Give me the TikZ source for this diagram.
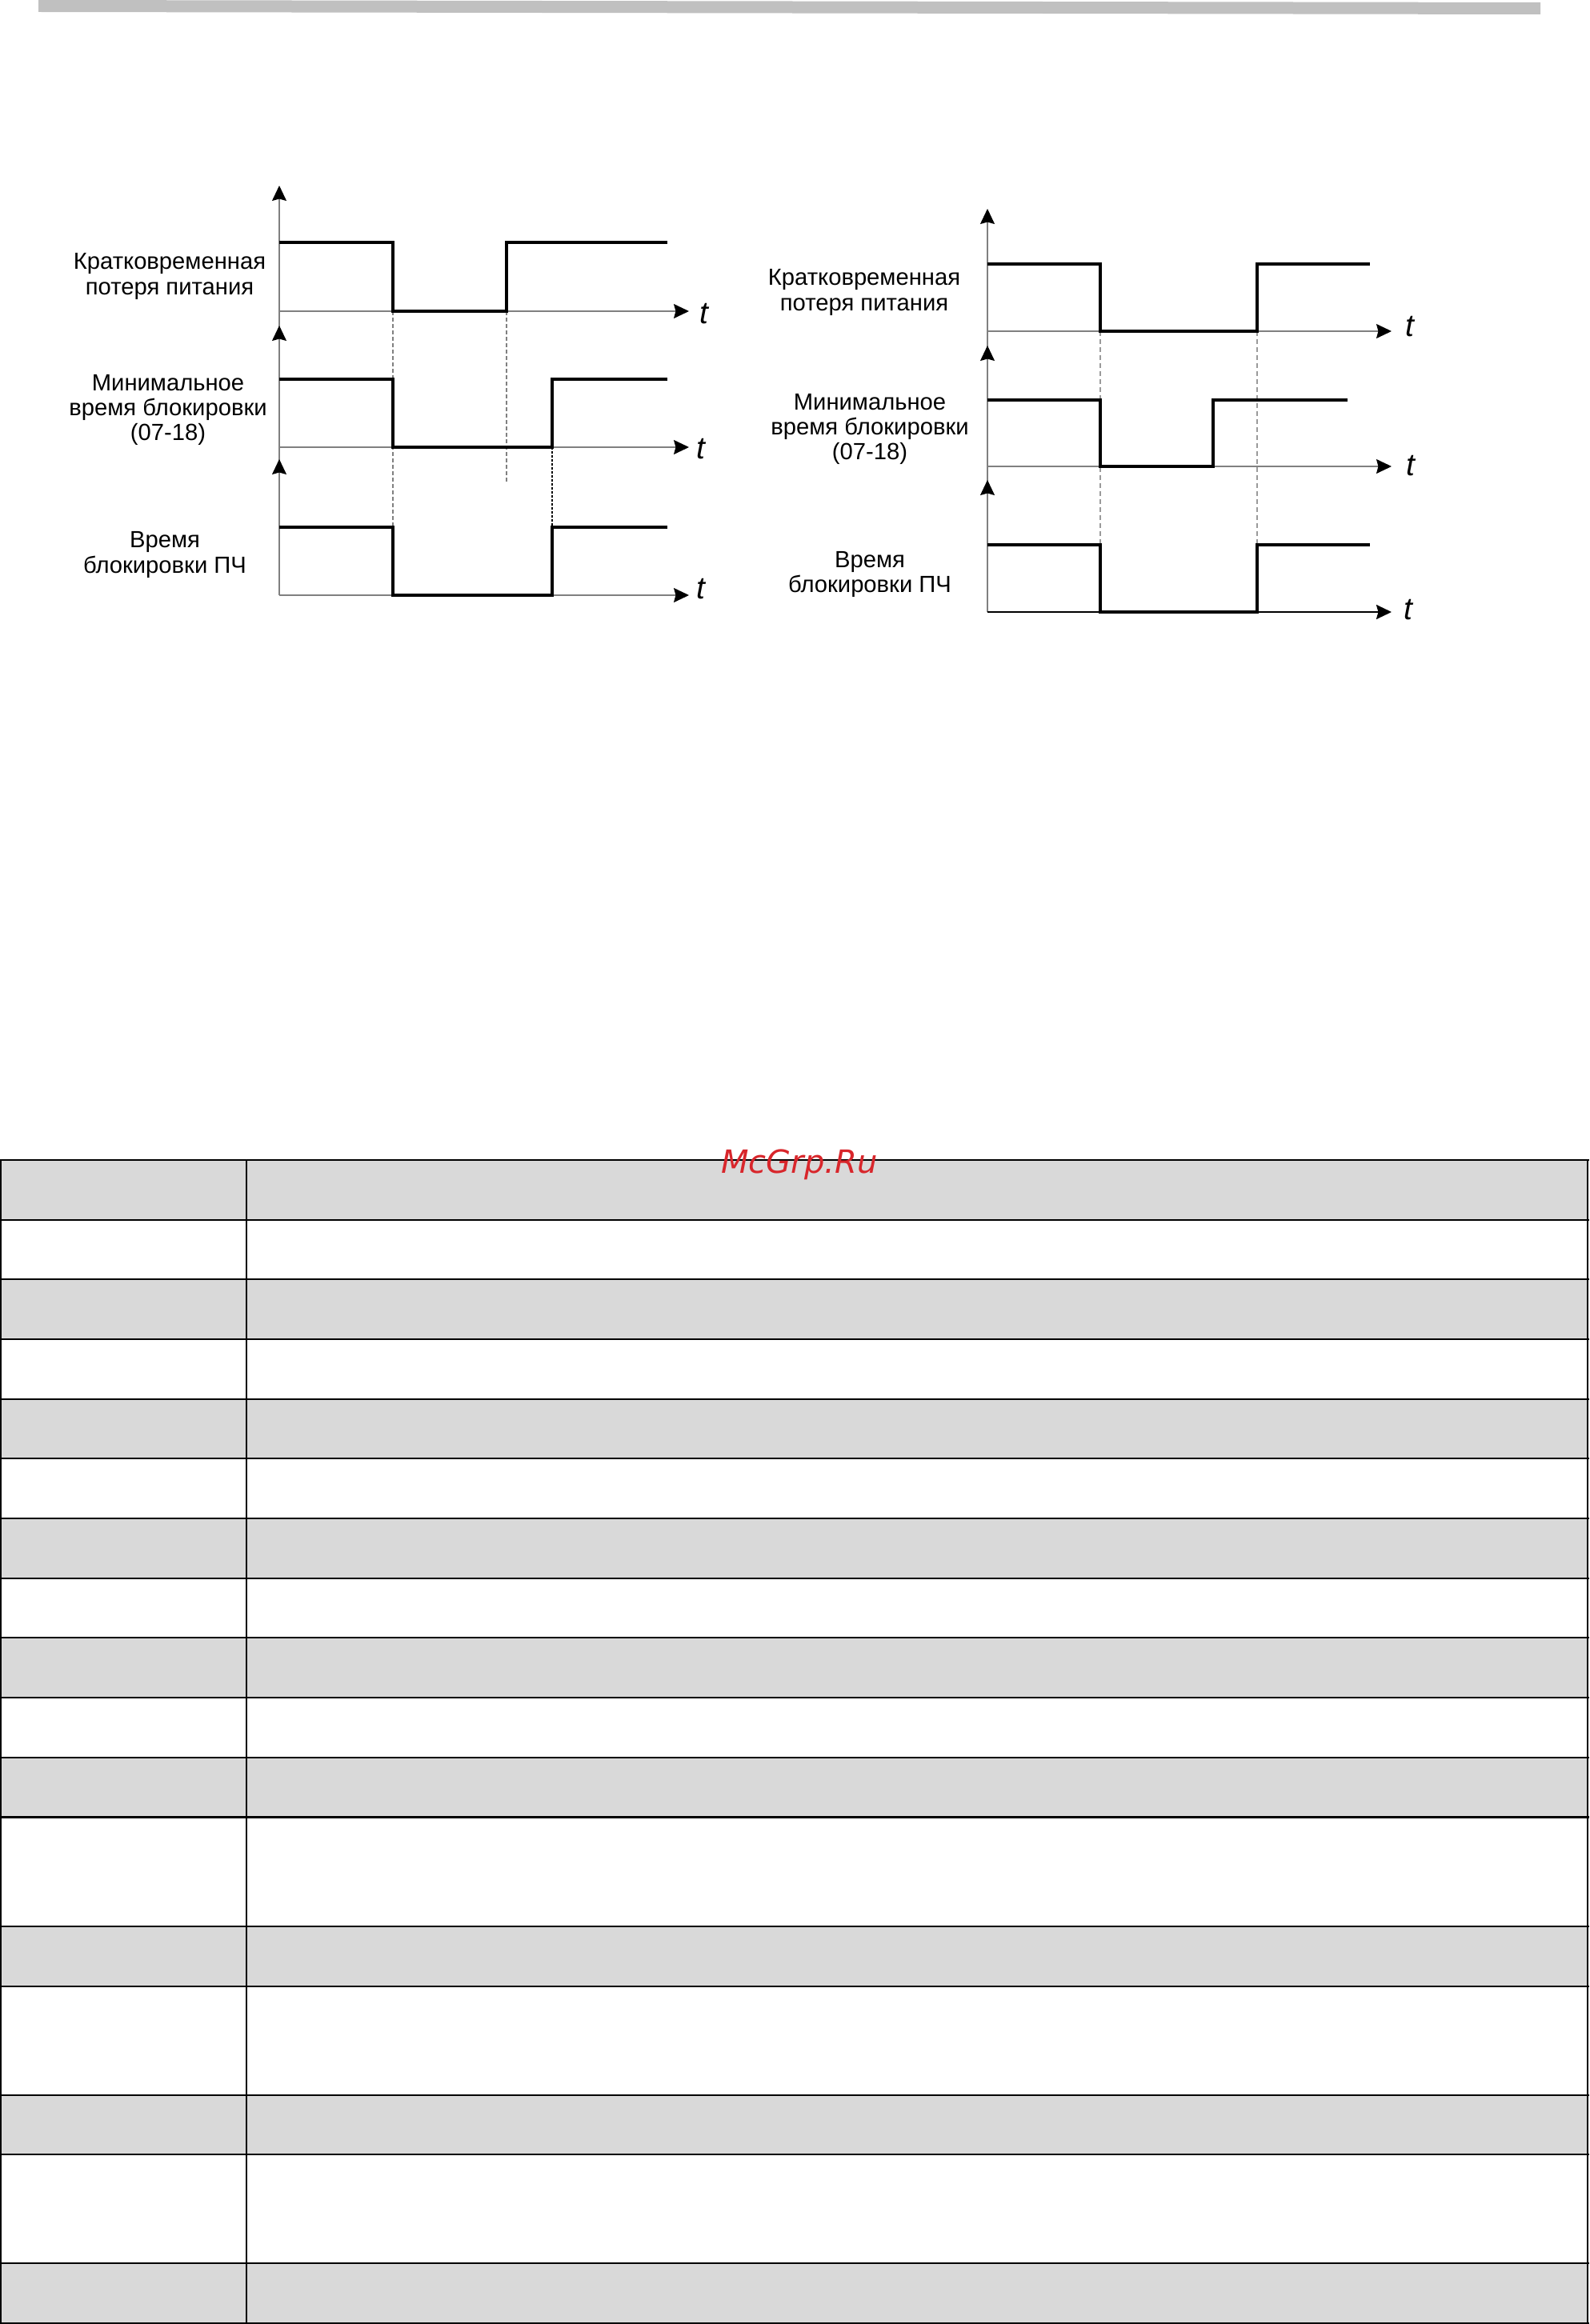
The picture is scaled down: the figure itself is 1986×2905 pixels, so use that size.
\documentclass[tikz,border=0pt]{standalone}
\usepackage{fontspec}
\setmainfont{Liberation Sans}
\newfontfamily\wmfont{DejaVu Sans}
\usetikzlibrary{arrows.meta}
\definecolor{rowgray}{HTML}{D9D9D9}
\definecolor{bargray}{HTML}{C0C0C0}
\definecolor{axisgray}{HTML}{808080}
\definecolor{dashgray}{HTML}{9A9A9A}
\definecolor{wmred}{HTML}{D8262B}
\begin{document}
\begin{tikzpicture}[x=0.5pt,y=-0.5pt,
  sig/.style={line width=1.6pt, line join=miter},
  axisline/.style={line width=0.65pt, draw=axisgray},
  axarrow/.style={-{Stealth[length=9.5pt,width=9pt,inset=1.2pt,color=black]}},
  lbl/.style={anchor=base, inner sep=0pt, font=\fontsize{14.6}{17}\selectfont},
  tlbl/.style={anchor=base, inner sep=0pt, font=\fontsize{19.5}{22}\selectfont\itshape},
  dashL/.style={line width=0.6pt, draw=axisgray, dash pattern=on 2.5pt off 1.5pt},
  dashR/.style={line width=0.65pt, draw=dashgray, dash pattern=on 3pt off 2pt},
  dotL/.style={line width=1pt, draw=black, dash pattern=on 1.5pt off 1pt},
  tline/.style={line width=1.05pt, draw=black}]
\useasboundingbox (0,0) rectangle (1986,2905);
\fill[white] (0,0) rectangle (1986,2905);
% top bar
\fill[bargray] (48,0) -- (1925,3) -- (1925,18) -- (48,15) -- cycle;

% ================= LEFT DIAGRAM =================
\draw[dashL] (491,389) -- (491,659);
\draw[dashL] (633,389) -- (633,602);
\draw[dotL] (690,559) -- (690,659);
\draw[axisline,axarrow] (349,744) -- (349,232);
\draw[axisline,axarrow] (349,440) -- (349,407);
\draw[axisline,axarrow] (349,610) -- (349,574);
\draw[axisline,axarrow] (349,389) -- (861,389);
\draw[axisline,axarrow] (349,559) -- (861,559);
\draw[axisline,axarrow] (349,744) -- (861,744);
\draw[sig] (349,303) -- (491,303) -- (491,389) -- (633,389) -- (633,303) -- (834,303);
\draw[sig] (349,474) -- (491,474) -- (491,559) -- (690,559) -- (690,474) -- (834,474);
\draw[sig] (349,659) -- (491,659) -- (491,744) -- (690,744) -- (690,659) -- (834,659);
\node[lbl] (la1) at (212,337) {Кратковременная};
\node[lbl] (la2) at (212,369) {потеря питания};
\node[lbl] (lb1) at (210,488) {Минимальное};
\node[lbl] (lb2) at (210,519) {время блокировки};
\node[lbl] (lb3) at (210,550) {(07-18)};
\node[lbl] (lc1) at (206,684) {Время};
\node[lbl] (lc2) at (206,716) {блокировки ПЧ};
\node[tlbl] (lt1) at (880,404) {t};
\node[tlbl] (lt2) at (876,573) {t};
\node[tlbl] (lt3) at (876,748) {t};

% ================= RIGHT DIAGRAM =================
\draw[dashR] (1375,414) -- (1375,681);
\draw[dashR] (1571,414) -- (1571,681);
\draw[axisline,axarrow] (1234,765) -- (1234,261);
\draw[axisline,axarrow] (1234,465) -- (1234,432);
\draw[axisline,axarrow] (1234,635) -- (1234,600);
\draw[axisline,axarrow] (1234,414) -- (1739,414);
\draw[axisline,axarrow] (1234,583) -- (1739,583);
\draw[line width=1.1pt,axarrow] (1234,765) -- (1739,765);
\draw[sig] (1234,330) -- (1375,330) -- (1375,414) -- (1571,414) -- (1571,330) -- (1712,330);
\draw[sig] (1234,500) -- (1375,500) -- (1375,583) -- (1516,583) -- (1516,500) -- (1684,500);
\draw[sig] (1234,681) -- (1375,681) -- (1375,765) -- (1571,765) -- (1571,681) -- (1712,681);
\node[lbl] (ra1) at (1080,357) {Кратковременная};
\node[lbl] (ra2) at (1080,388) {потеря питания};
\node[lbl] (rb1) at (1087,512) {Минимальное};
\node[lbl] (rb2) at (1087,543) {время блокировки};
\node[lbl] (rb3) at (1087,574) {(07-18)};
\node[lbl] (rc1) at (1087,709) {Время};
\node[lbl] (rc2) at (1087,740) {блокировки ПЧ};
\node[tlbl] (rt1) at (1762,421) {t};
\node[tlbl] (rt2) at (1763,594) {t};
\node[tlbl] (rt3) at (1760,774) {t};

% ================= TABLE =================
\def\ys{1450,1524.7,1599.4,1674,1748.7,1823.4,1898.1,1972.8,2047.4,2122.1,2196.8,2271.5,2407.7,2483.3,2618.6,2692.8,2828.6,2903.7}
\foreach \a/\b in {1450/1524.7,1599.4/1674,1748.7/1823.4,1898.1/1972.8,2047.4/2122.1,2196.8/2271.5,2407.7/2483.3,2618.6/2692.8,2828.6/2903.7}
  \fill[rowgray] (1,\a) rectangle (1984,\b);
\foreach \y in \ys
  \draw[tline] (0,\y) -- (1985.5,\y);
\draw[tline] (1.2,1450) -- (1.2,2903.7);
\draw[tline] (308,1450) -- (308,2903.7);
\draw[tline] (1984.3,1450) -- (1984.3,2903.7);
\node[anchor=base, inner sep=0pt, text=wmred, font=\wmfont\itshape\fontsize{20}{24}\selectfont] (wm) at (999,1466) {McGrp.Ru};
\end{tikzpicture}
\end{document}
